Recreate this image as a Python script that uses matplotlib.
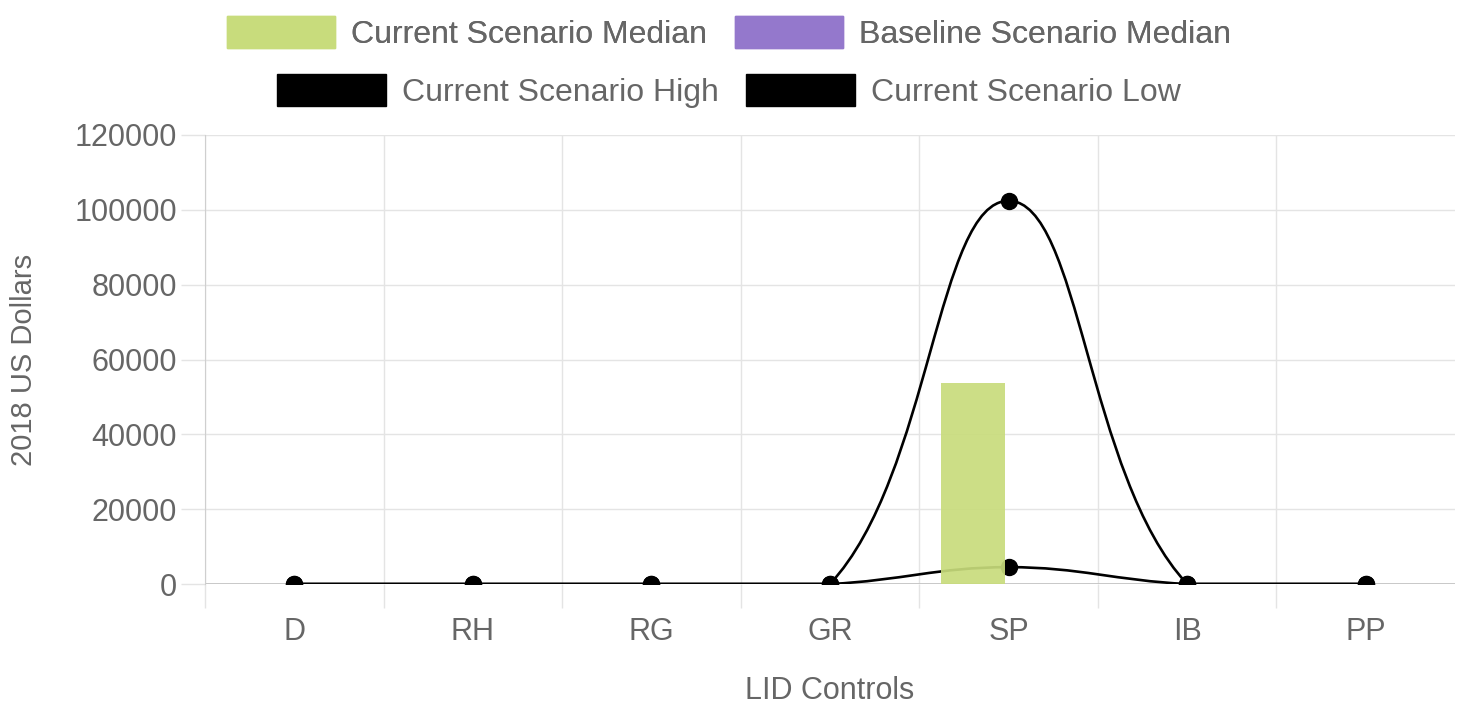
import numpy as np
import matplotlib.pyplot as plt
from matplotlib.patches import Patch, PathPatch
from matplotlib.path import Path

# data
categories = ['D', 'RH', 'RG', 'GR', 'SP', 'IB', 'PP']
current_median = [0, 0, 0, 0, 53700, 0, 0]
baseline_median = [0, 0, 0, 0, 0, 0, 0]
current_high = [0, 0, 0, 0, 102400, 0, 0]
current_low = [0, 0, 0, 0, 4500, 0, 0]

plt.rcParams['font.family'] = ['Liberation Sans', 'DejaVu Sans']
txt = '#666666'
grid_c = '#e4e4e4'
green = '#c8dc7c'
purple = '#9478cc'

fig = plt.figure(figsize=(14.58, 7.07), dpi=100)
W, H = 1458., 707.
ax = fig.add_axes([205 / W, 1 - 584 / H, (1455 - 205) / W, (584 - 135) / H])
ax.set_xlim(-0.5, 6.5)
ax.set_ylim(0, 120000)

x = np.arange(len(categories))


def spline_path(xs, ys, tension=0.4):
    # chart.js style bezier spline, computed in pixel space
    pts = ax.transData.transform(np.column_stack([xs, ys]))
    n = len(pts)
    verts = [pts[0]]
    codes = [Path.MOVETO]
    cps = []
    for i in range(n):
        prev = pts[max(i - 1, 0)]
        cur = pts[i]
        nxt = pts[min(i + 1, n - 1)]
        d01 = np.hypot(*(cur - prev))
        d12 = np.hypot(*(nxt - cur))
        tot = d01 + d12
        s01 = d01 / tot if tot else 0
        s12 = d12 / tot if tot else 0
        c_prev = cur - tension * s01 * (nxt - prev)
        c_next = cur + tension * s12 * (nxt - prev)
        cps.append((c_prev, c_next))
    for i in range(1, n):
        verts += [cps[i - 1][1], cps[i][0], pts[i]]
        codes += [Path.CURVE4] * 3
    verts = ax.transData.inverted().transform(np.array(verts))
    verts[:, 1] = np.clip(verts[:, 1], 0, 120000)
    verts[:, 0] = np.clip(verts[:, 0], -0.5, 6.5)
    return Path(verts, codes)


for ys in [current_low, current_high]:
    ax.add_patch(PathPatch(spline_path(x, ys), fill=False, edgecolor='black',
                           lw=1.9, zorder=3))
    ax.plot(x, ys, 'o', color='black', markersize=11.5, zorder=4)

# grouped bars, chart.js widths (category 0.8, bar 0.9)
bw = 0.4 * 0.9
ax.bar(x - 0.2, current_median, bw, color=green, alpha=0.92, lw=0, zorder=5)
ax.bar(x + 0.2, baseline_median, bw, color=purple, lw=0, zorder=5)

ax.set_xticks(x)
ax.set_xticklabels(categories)
ax.set_xticks(np.arange(-0.5, 6, 1), minor=True)
ax.set_yticks(np.arange(0, 120001, 20000))
ax.tick_params(axis='x', which='major', length=0, pad=24, labelsize=22, labelcolor=txt)
ax.tick_params(axis='x', which='minor', length=17, color=grid_c, width=1)
ax.tick_params(axis='y', length=17, color=grid_c, width=1, pad=3, labelsize=22, labelcolor=txt)
ax.grid(axis='x', which='minor', color=grid_c, lw=1)
ax.grid(axis='y', which='major', color=grid_c, lw=1)
ax.set_axisbelow(True)
ax.axhline(0, color='#c0c0c0', lw=1.2, zorder=1)
for s in ['top', 'right', 'bottom']:
    ax.spines[s].set_visible(False)
ax.spines['left'].set_color('#cfcfcf')

ax.set_ylabel('2018 US Dollars', fontsize=21, color=txt)
ax.yaxis.set_label_coords(-(205 - 38) / 1250., 0.5)
ax.set_xlabel('LID Controls', fontsize=22, color=txt)
ax.xaxis.set_label_coords(0.5, -(676 - 584) / 449.)

leg_kw = dict(loc='center', ncol=2, frameon=False, fontsize=23, handlelength=3.4,
              handleheight=1.15, handletextpad=0.5, columnspacing=0.85,
              labelcolor=txt, borderpad=0)
leg1 = fig.legend(handles=[Patch(facecolor=green, edgecolor=green),
                           Patch(facecolor=purple, edgecolor=purple)],
                  labels=['Current Scenario Median', 'Baseline Scenario Median'],
                  bbox_to_anchor=(729 / W, 1 - 33 / H), **leg_kw)
fig.add_artist(leg1)
fig.legend(handles=[Patch(facecolor='black', edgecolor='black'),
                    Patch(facecolor='black', edgecolor='black')],
           labels=['Current Scenario High', 'Current Scenario Low'],
           bbox_to_anchor=(729 / W, 1 - 91 / H), **leg_kw)

plt.savefig('out.png', dpi=100)
